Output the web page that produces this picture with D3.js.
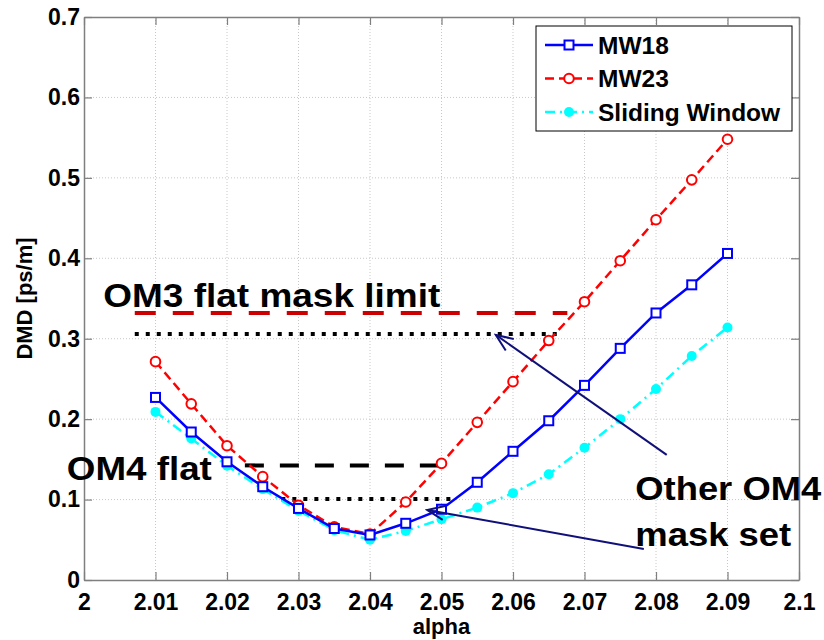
<!DOCTYPE html>
<html>
<head>
<meta charset="utf-8">
<script src="https://cdn.jsdelivr.net/npm/d3@7"></script>
<style>
  html, body { margin: 0; padding: 0; background: #fff; }
  svg { display: block; }
  text { font-family: "Liberation Sans", Arial, Helvetica, sans-serif; font-weight: bold; }
</style>
</head>
<body>
<svg id="chart" width="824" height="640"></svg>
<script>
// ---- data ----
const alpha = [2.01, 2.015, 2.02, 2.025, 2.03, 2.035, 2.04, 2.045, 2.05, 2.055, 2.06, 2.065, 2.07, 2.075, 2.08, 2.085, 2.09];
const mw18 = [0.227, 0.184, 0.147, 0.116, 0.089, 0.064, 0.056, 0.0705, 0.088, 0.1215, 0.160, 0.198, 0.242, 0.288, 0.332, 0.367, 0.406];
const mw23 = [0.2715, 0.219, 0.167, 0.1285, 0.093, 0.066, 0.057, 0.097, 0.145, 0.196, 0.2466, 0.2977, 0.346, 0.397, 0.448, 0.4975, 0.548];
const slidingWindow = [0.209, 0.176, 0.142, 0.113, 0.086, 0.062, 0.050, 0.061, 0.0755, 0.090, 0.108, 0.1315, 0.1645, 0.200, 0.2375, 0.2786, 0.314];
const seriesNames = ["MW18", "MW23", "Sliding Window"];
const xTicks = [2, 2.01, 2.02, 2.03, 2.04, 2.05, 2.06, 2.07, 2.08, 2.09, 2.1];
const xTickLabels = ["2", "2.01", "2.02", "2.03", "2.04", "2.05", "2.06", "2.07", "2.08", "2.09", "2.1"];
const yTicks = [0, 0.1, 0.2, 0.3, 0.4, 0.5, 0.6, 0.7];
const yTickLabels = ["0", "0.1", "0.2", "0.3", "0.4", "0.5", "0.6", "0.7"];
const xLabel = "alpha";
const yLabel = "DMD [ps/m]";
// annotation limit lines: [x0, x1, y]
const om3Dashed = [2.0071, 2.0676, 0.332];
const om3Dotted = [2.0071, 2.0662, 0.306];
const om4Dashed = [2.0225, 2.0505, 0.1425];
const om4Dotted = [2.0276, 2.0519, 0.1007];
// arrows: [xFrom, yFrom, xTo, yTo]
const arrow1 = [2.0815, 0.1555, 2.0576, 0.3047];
const arrow2 = [2.0783, 0.0386, 2.0480, 0.0871];
// annotation texts: [text, x, y]
const notes = [["OM3 flat mask limit", 2.0027, 0.340], ["OM4 flat", 1.9976, 0.1244], ["Other OM4", 2.0771, 0.0995], ["mask set", 2.0771, 0.0427]];

// ---- layout ----
const svg = d3.select("#chart");
const L = 84, R = 799, T = 17, B = 580;
const x = d3.scaleLinear().domain([2, 2.1]).range([L, R]);
const y = d3.scaleLinear().domain([0, 0.7]).range([B, T]);
const axisColor = "#7f7f7f";

// grid
const grid = svg.append("g");
grid.selectAll(".gx").data(xTicks.slice(1, -1)).enter().append("line")
  .attr("x1", d => x(d)).attr("x2", d => x(d)).attr("y1", T).attr("y2", B)
  .attr("stroke", "#c8c8c8").attr("stroke-width", 1).attr("stroke-dasharray", "1,2");
grid.selectAll(".gy").data(yTicks.slice(1, -1)).enter().append("line")
  .attr("y1", d => y(d)).attr("y2", d => y(d)).attr("x1", L).attr("x2", R)
  .attr("stroke", "#c8c8c8").attr("stroke-width", 1).attr("stroke-dasharray", "1,2");

// axes
function styleAxis(g) {
  g.select(".domain").attr("stroke", axisColor).attr("stroke-width", 1.5);
  g.selectAll(".tick line").attr("stroke", axisColor).attr("stroke-width", 1.2);
  g.selectAll(".tick text").attr("fill", "#000").style("font-size", "23px")
    .style("font-family", '"Liberation Sans", Arial, sans-serif').style("font-weight", "bold");
}
svg.append("g").attr("transform", `translate(0,${B})`)
  .call(d3.axisBottom(x).tickValues(xTicks).tickSize(-8).tickSizeOuter(0).tickPadding(14)
    .tickFormat((d, i) => xTickLabels[i]))
  .call(styleAxis);
svg.append("g").attr("transform", `translate(${L},0)`)
  .call(d3.axisLeft(y).tickValues(yTicks).tickSize(-8).tickSizeOuter(0).tickPadding(4)
    .tickFormat((d, i) => yTickLabels[i]))
  .call(styleAxis);
svg.append("g").attr("transform", `translate(0,${T})`)
  .call(d3.axisTop(x).tickValues(xTicks).tickSize(-8).tickSizeOuter(0).tickFormat(""))
  .call(styleAxis);
svg.append("g").attr("transform", `translate(${R},0)`)
  .call(d3.axisRight(y).tickValues(yTicks).tickSize(-8).tickSizeOuter(0).tickFormat(""))
  .call(styleAxis);

// axis labels
svg.append("text").attr("x", (L + R) / 2).attr("y", 634).attr("text-anchor", "middle")
  .style("font-size", "22px").text(xLabel);
svg.append("text").attr("transform", `translate(32,${(T + B) / 2}) rotate(-90)`)
  .attr("text-anchor", "middle").style("font-size", "22px").text(yLabel);

// annotation limit lines
function hline(spec, color, dash, w) {
  svg.append("line").attr("x1", x(spec[0])).attr("x2", x(spec[1]))
    .attr("y1", y(spec[2])).attr("y2", y(spec[2]))
    .attr("stroke", color).attr("stroke-width", w).attr("stroke-dasharray", dash);
}
hline(om3Dashed, "#cc0000", "21,17", 4);
hline(om3Dotted, "#000", "4,7", 4);
hline(om4Dashed, "#000", "19,16", 4);
hline(om4Dotted, "#000", "4,7", 4);

// series
const series = [
  { name: seriesNames[0], vals: mw18, color: "#0000ff", dash: null, marker: "square" },
  { name: seriesNames[1], vals: mw23, color: "#ff0000", dash: "9,5", marker: "circle" },
  { name: seriesNames[2], vals: slidingWindow, color: "#00ffff", dash: "10,5,2,5", marker: "dot" }
];
const line = d3.line().x(d => x(d[0])).y(d => y(d[1]));
function drawMarker(g, kind, color, cx, cy) {
  if (kind === "square") {
    g.append("rect").attr("x", cx - 4.5).attr("y", cy - 4.5).attr("width", 9).attr("height", 9)
      .attr("fill", "#fff").attr("stroke", color).attr("stroke-width", 2);
  } else if (kind === "circle") {
    g.append("circle").attr("cx", cx).attr("cy", cy).attr("r", 4.8)
      .attr("fill", "#fff").attr("stroke", color).attr("stroke-width", 2);
  } else {
    g.append("circle").attr("cx", cx).attr("cy", cy).attr("r", 5).attr("fill", color);
  }
}
// draw in reverse order so MW18 is on top
series.slice().reverse().forEach(s => {
  const pts = alpha.map((a, i) => [a, s.vals[i]]);
  const g = svg.append("g");
  g.append("path").attr("d", line(pts)).attr("fill", "none").attr("stroke", s.color)
    .attr("stroke-width", 2.5).attr("stroke-dasharray", s.dash);
  pts.forEach(p => drawMarker(g, s.marker, s.color, x(p[0]), y(p[1])));
});

// arrows
const navy = "#10107a";
svg.append("defs").append("marker").attr("id", "arr").attr("markerUnits", "userSpaceOnUse")
  .attr("viewBox", "-20 -10 22 20").attr("refX", 0).attr("refY", 0)
  .attr("markerWidth", 22).attr("markerHeight", 20).attr("orient", "auto")
  .append("path").attr("d", "M-17,-7 L0,0 L-17,7").attr("fill", "none")
  .attr("stroke", navy).attr("stroke-width", 2);
[arrow1, arrow2].forEach(a => {
  svg.append("line").attr("x1", x(a[0])).attr("y1", y(a[1])).attr("x2", x(a[2])).attr("y2", y(a[3]))
    .attr("stroke", navy).attr("stroke-width", 2).attr("marker-end", "url(#arr)");
});

// annotation texts
const noteWidths = { "OM3 flat mask limit": 337, "OM4 flat": 145, "Other OM4": 186, "mask set": 156 };
notes.forEach(n => {
  svg.append("text").attr("x", x(n[1])).attr("y", y(n[2])).style("font-size", "33px")
    .attr("textLength", noteWidths[n[0]]).attr("lengthAdjust", "spacingAndGlyphs").text(n[0]);
});

// legend
const lg = svg.append("g");
lg.append("rect").attr("x", 536).attr("y", 26).attr("width", 256).attr("height", 105)
  .attr("fill", "#fff").attr("stroke", "#000").attr("stroke-width", 1);
series.forEach((s, i) => {
  const ly = 45 + i * 33.5;
  lg.append("line").attr("x1", 545).attr("x2", 593).attr("y1", ly).attr("y2", ly)
    .attr("stroke", s.color).attr("stroke-width", 2.5).attr("stroke-dasharray", s.dash);
  drawMarker(lg, s.marker, s.color, 569, ly);
  lg.append("text").attr("x", 598).attr("y", ly + 8.5).style("font-size", "24.5px").text(s.name);
});
</script>
</body>
</html>
